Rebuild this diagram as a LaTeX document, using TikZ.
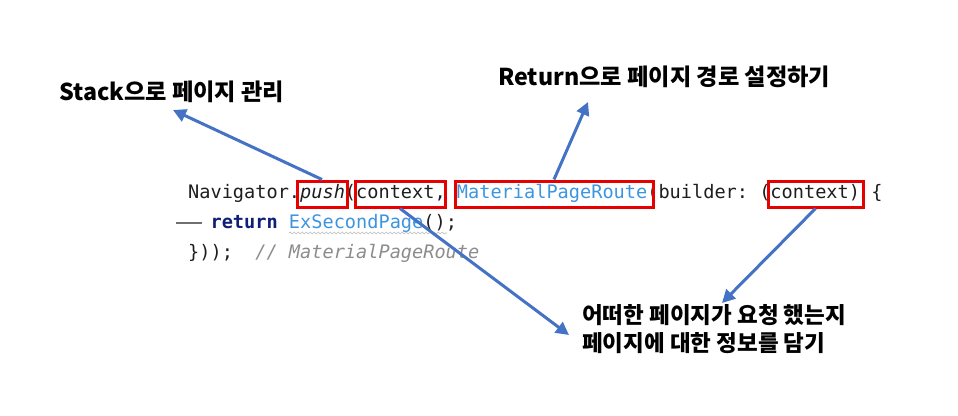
\documentclass[tikz,border=0pt]{standalone}
\usepackage{fontspec}
\usetikzlibrary{arrows.meta,decorations.pathmorphing}
\setmonofont{DejaVu Sans Mono}
\newfontfamily\kr{Noto Sans CJK KR}
\definecolor{arrowblue}{HTML}{4472C4}
\definecolor{boxred}{HTML}{E60000}
\definecolor{codeblue}{HTML}{3D95E0}
\definecolor{kwnavy}{HTML}{0F1F78}
\definecolor{codeblack}{HTML}{1E1E1E}
\definecolor{commentgrey}{HTML}{8C8C8C}
\tikzset{
  codetext/.style={anchor=base west, inner sep=0pt, font=\ttfamily\fontsize{18.6}{22}\selectfont, text=codeblack},
  label/.style={anchor=base west, inner sep=0pt, align=left, font=\kr\bfseries\fontsize{23.2}{28}\selectfont, text=black},
  redbox/.style={draw=boxred, line width=3pt, inner sep=0pt, minimum height=26pt},
  callout/.style={draw=arrowblue, line width=3pt, -{Triangle[length=13pt,width=13pt]}},
  squiggle/.style={draw=commentgrey!60, line width=0.6pt, decorate, decoration={snake, segment length=4pt, amplitude=1pt}},
}
\begin{document}
\begin{tikzpicture}[x=1pt,y=-1pt]
\useasboundingbox (0,0) rectangle (958,415);
% code
\node[codetext] (l1) at (188,198) {Navigator.\textit{push}(context,\ \textcolor{codeblue}{MaterialPageRoute}(builder:\ (context)\ \{};
\node[codetext] (l2) at (188,228) {\ \ \textbf{\textcolor{kwnavy}{return}}\ \textcolor{codeblue}{ExSecondPage}();};
\node[codetext] (l3) at (188,258) {\}));\ \ \textit{\textcolor{commentgrey}{// MaterialPageRoute}}};
\draw[commentgrey!80!black, line width=1.3pt] (176,223) -- (202,223);
\draw[squiggle] (289,233) -- (447,233);
% red boxes
\node[redbox, minimum width=50pt] (bpush) at (322,194) {};
\node[redbox, minimum width=90pt] (bctx) at (400,194) {};
\node[redbox, minimum width=198pt] (bmat) at (554,194) {};
\node[redbox, minimum width=95pt] (bctx2) at (815.5,194) {};
% labels
\node[label] (lstack) at (59,100) {Stack으로 페이지 관리};
\node[label] (lret) at (498,85) {Return으로 페이지 경로 설정하기};
\node[label, font=\kr\bfseries\fontsize{22.5}{28}\selectfont] (linfo) at (582,351) {어떠한 페이지가 요청 했는지\\페이지에 대한 정보를 담기};
% arrow ends
\coordinate (tstack) at (173,110);
\coordinate (tret) at (588,102);
\coordinate (tinfo1) at (569,335);
\coordinate (tinfo2) at (722,303);
\draw[callout] (bpush.north) -- (tstack);
\draw[callout] (bmat.north) -- (tret);
\draw[callout] (bctx.south) -- (tinfo1);
\draw[callout] (bctx2.south) -- (tinfo2);
\end{tikzpicture}
\end{document}
